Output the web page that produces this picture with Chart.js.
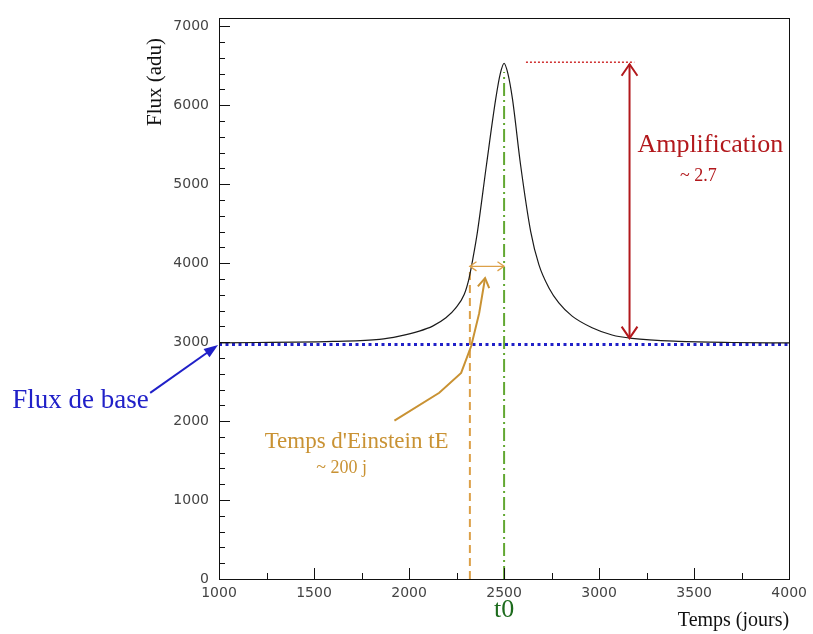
<!DOCTYPE html>
<html>
<head>
<meta charset="utf-8">
<script src="https://cdn.jsdelivr.net/npm/chart.js@4.4.1/dist/chart.umd.min.js"></script>
<style>
  html, body { margin: 0; padding: 0; background: #fff; }
  #wrap { width: 813px; height: 634px; position: relative; }
</style>
</head>
<body>
<div id="wrap"><canvas id="lensChart"></canvas></div>
<script>
// Light curve: time (days) and flux (adu)
const timeDays = [1000, 1200, 1400, 1600, 1844, 1949, 2054, 2124, 2194, 2246, 2290, 2316, 2336, 2360, 2407, 2456,
                  2480, 2500, 2520, 2544, 2587, 2640, 2683, 2736, 2788, 2858, 2963, 3068, 3173, 3417, 3700, 4000];
const fluxAdu = [2990, 2995, 3000, 3010, 3035, 3077, 3140, 3203, 3308, 3434, 3603, 3812, 4060, 4400, 5240, 6080,
                 6400, 6530, 6400, 6080, 5240, 4400, 3981, 3686, 3497, 3329, 3182, 3090, 3048, 3010, 2995, 2990];

// Baseline flux (blue dotted line)
const baselineDays = [1000, 4000];
const baselineFlux = [2970, 2970];

// Peak time t0 and start of the Einstein time marker
const t0Day = 2500;
const t0LineTop = 6420;
const tEStartDay = 2320;
const tEFlux = 3960;

// Amplification marker (red)
const ampDay = 3160;
const ampTop = 6520;
const ampBottom = 3050;
const peakLineDays = [2615, 3185];
const peakLineFlux = 6545;

// Axis ticks
const xTickValues = [1000, 1500, 2000, 2500, 3000, 3500, 4000];
const yTickValues = [0, 1000, 2000, 3000, 4000, 5000, 6000, 7000];

const pts = (xs, ys) => xs.map((x, i) => ({ x: x, y: ys[i] }));

const BLUE = "#2020c8";
const ORANGE = "#c99233";
const ORANGE_LINE = "#dca048";
const RED = "#b2181c";
const GREEN_LINE = "#62a832";
const GREEN_TEXT = "#1d6b1d";

function openHead(ctx, x, y, angle, len, spread) {
  ctx.beginPath();
  ctx.moveTo(x + len * Math.cos(angle + spread), y + len * Math.sin(angle + spread));
  ctx.lineTo(x, y);
  ctx.lineTo(x + len * Math.cos(angle - spread), y + len * Math.sin(angle - spread));
  ctx.stroke();
}

const annotations = {
  id: "annotations",
  afterDraw(chart) {
    const { ctx, chartArea: a } = chart;
    const xs = chart.scales.x, ys = chart.scales.y;
    const X = (v) => xs.getPixelForValue(v);
    const Y = (v) => ys.getPixelForValue(v);
    ctx.save();

    // frame + inward ticks
    ctx.strokeStyle = "#111";
    ctx.lineWidth = 1;
    ctx.strokeRect(Math.round(a.left) + 0.5, Math.round(a.top) + 0.5, Math.round(a.width), Math.round(a.height));
    ctx.beginPath();
    for (let v = xs.min; v <= xs.max; v += 250) {
      const px = Math.round(X(v)) + 0.5;
      const len = v % 500 === 0 ? 11 : 6;
      ctx.moveTo(px, a.bottom);
      ctx.lineTo(px, a.bottom - len);
    }
    for (let v = 0; v <= ys.max; v += 200) {
      const py = Math.round(Y(v)) + 0.5;
      const len = v % 1000 === 0 ? 11 : 6;
      ctx.moveTo(a.left, py);
      ctx.lineTo(a.left + len, py);
    }
    ctx.stroke();

    // orange double arrow (tE)
    ctx.strokeStyle = ORANGE_LINE;
    ctx.lineWidth = 1.3;
    const yE = Y(tEFlux);
    ctx.beginPath();
    ctx.moveTo(X(tEStartDay), yE);
    ctx.lineTo(X(t0Day), yE);
    ctx.stroke();
    openHead(ctx, X(tEStartDay), yE, 0, 8, 0.6);
    openHead(ctx, X(t0Day), yE, Math.PI, 8, 0.6);

    // orange curved pointer
    const curve = [[1923, 2005], [2159, 2358], [2274, 2610], [2327, 2951], [2369, 3367], [2400, 3812]];
    ctx.strokeStyle = ORANGE;
    ctx.lineWidth = 2;
    ctx.beginPath();
    curve.forEach(([t, f], i) => (i ? ctx.lineTo(X(t), Y(f)) : ctx.moveTo(X(t), Y(f))));
    ctx.stroke();
    const tip = curve[curve.length - 1], prev = curve[curve.length - 2];
    const ang = Math.atan2(Y(prev[1]) - Y(tip[1]), X(prev[0]) - X(tip[0]));
    openHead(ctx, X(tip[0]), Y(tip[1]), ang, 11, 0.55);

    // red amplification arrow
    ctx.strokeStyle = RED;
    ctx.lineWidth = 2;
    ctx.beginPath();
    ctx.moveTo(X(ampDay), Y(ampTop));
    ctx.lineTo(X(ampDay), Y(ampBottom));
    ctx.stroke();
    openHead(ctx, X(ampDay), Y(ampTop), Math.PI / 2, 14, 0.6);
    openHead(ctx, X(ampDay), Y(ampBottom), -Math.PI / 2, 14, 0.6);

    // blue arrow for baseline
    const bx0 = X(638), by0 = Y(2358), bx1 = X(995), by1 = Y(2963);
    const bang = Math.atan2(by1 - by0, bx1 - bx0);
    ctx.strokeStyle = BLUE;
    ctx.fillStyle = BLUE;
    ctx.lineWidth = 2;
    ctx.beginPath();
    ctx.moveTo(bx0, by0);
    ctx.lineTo(bx1 - 10 * Math.cos(bang), by1 - 10 * Math.sin(bang));
    ctx.stroke();
    ctx.beginPath();
    ctx.moveTo(bx1, by1);
    ctx.lineTo(bx1 - 15 * Math.cos(bang - 0.35), by1 - 15 * Math.sin(bang - 0.35));
    ctx.lineTo(bx1 - 15 * Math.cos(bang + 0.35), by1 - 15 * Math.sin(bang + 0.35));
    ctx.closePath();
    ctx.fill();

    // texts
    const text = (s, x, y, font, color, align) => {
      ctx.font = font;
      ctx.fillStyle = color;
      ctx.textAlign = align || "center";
      ctx.textBaseline = "middle";
      ctx.fillText(s, x, y);
    };
    const serif = "'Liberation Serif', 'DejaVu Serif', serif";
    text("Flux de base", X(271), Y(2257), "27px " + serif, BLUE);
    text("Temps d'Einstein tE", X(1724), Y(1740), "23px " + serif, ORANGE);
    text("~ 200 j", X(1645), Y(1400), "18px " + serif, ORANGE);
    text("Amplification", X(3585), Y(5498), "26px " + serif, RED);
    text("~ 2.7", X(3522), Y(5095), "18px " + serif, RED);
    text("t0", X(t0Day), a.bottom + 31, "26px " + serif, GREEN_TEXT);
    text("Temps (jours)", a.right, a.bottom + 42, "20px " + serif, "#111", "right");

    ctx.translate(155, 82);
    ctx.rotate(-Math.PI / 2);
    text("Flux (adu)", 0, 0, "21px " + serif, "#111");
    ctx.restore();
  }
};

const tickFont = { family: "'DejaVu Sans', sans-serif", size: 14 };

new Chart(document.getElementById("lensChart"), {
  type: "line",
  data: {
    datasets: [
      {
        data: pts(timeDays, fluxAdu),
        borderColor: "#1a1a1a",
        borderWidth: 1.2,
        pointRadius: 0,
        cubicInterpolationMode: "monotone"
      },
      {
        data: pts(baselineDays, baselineFlux),
        borderColor: BLUE,
        borderWidth: 3,
        borderDash: [3, 3.5],
        pointRadius: 0
      },
      {
        data: pts([t0Day, t0Day], [0, t0LineTop]),
        borderColor: GREEN_LINE,
        borderWidth: 2,
        borderDash: [13, 4, 2, 4],
        pointRadius: 0
      },
      {
        data: pts([tEStartDay, tEStartDay], [0, tEFlux]),
        borderColor: ORANGE_LINE,
        borderWidth: 2,
        borderDash: [8, 5],
        pointRadius: 0
      },
      {
        data: pts(peakLineDays, [peakLineFlux, peakLineFlux]),
        borderColor: "#d03030",
        borderWidth: 1.5,
        borderDash: [2, 2],
        pointRadius: 0
      }
    ]
  },
  options: {
    responsive: true,
    maintainAspectRatio: false,
    animation: false,
    layout: { padding: { top: 16, right: 22, left: 0, bottom: 0 } },
    plugins: { legend: { display: false }, tooltip: { enabled: false } },
    scales: {
      x: {
        type: "linear",
        min: 1000,
        max: 4000,
        afterBuildTicks: (s) => { s.ticks = xTickValues.map((v) => ({ value: v })); },
        afterFit: (s) => { s.height = 55; },
        ticks: { font: tickFont, color: "#444", padding: 6, maxRotation: 0, callback: (v) => String(v) },
        grid: { display: false, drawTicks: false },
        border: { display: false }
      },
      y: {
        min: 0,
        max: 7100,
        afterBuildTicks: (s) => { s.ticks = yTickValues.map((v) => ({ value: v })); },
        afterFit: (s) => { s.width = 219; },
        ticks: { font: tickFont, color: "#444", padding: 10, callback: (v) => String(v) },
        grid: { display: false, drawTicks: false },
        border: { display: false }
      }
    }
  },
  plugins: [annotations]
});
</script>
</body>
</html>
